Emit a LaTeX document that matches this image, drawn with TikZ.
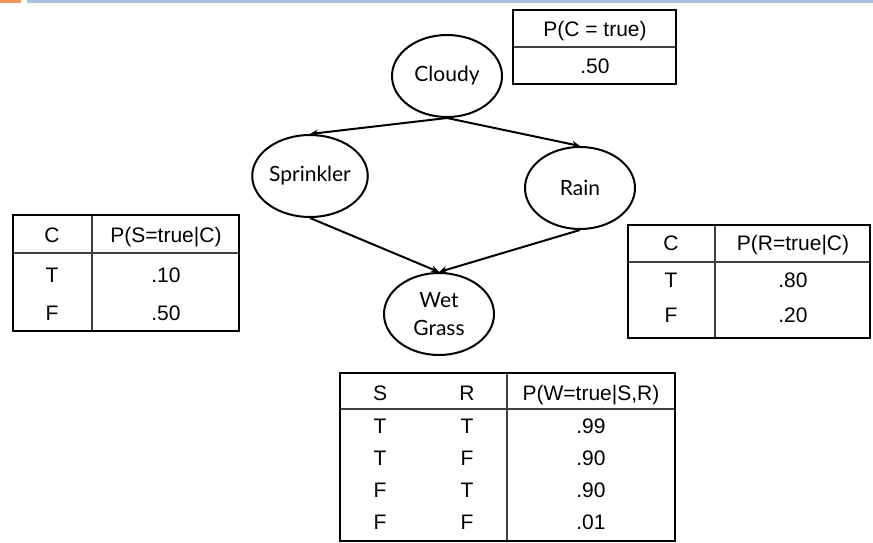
\documentclass[tikz,border=0pt]{standalone}
\usepackage{fontspec}
\setmainfont{Liberation Sans}
\newfontfamily\gillfont{Lato}
\usetikzlibrary{shapes.geometric,arrows.meta}
\definecolor{barorange}{RGB}{240,150,90}
\definecolor{barblue}{RGB}{168,196,220}
\tikzset{
  var/.style={draw,ellipse,line width=2pt,minimum width=110pt,minimum height=82pt,inner sep=0pt,
    align=center,font=\gillfont\fontsize{21}{28}\selectfont},
  link/.style={line width=2pt,-{Stealth[length=8pt,width=7pt]}},
  cell/.style={inner sep=0pt,text height=15pt,text depth=0pt},
  tabframe/.style={line width=2.6pt},
  tabrule/.style={line width=1.1pt,black!75}
}

\begin{document}
\begin{tikzpicture}[x=1pt,y=-1pt,font=\fontsize{21}{25}\selectfont]
  \useasboundingbox (0,0) rectangle (873,543);
  % slide bars
  \fill[barorange] (0,0) rectangle (21,3);
  \fill[barblue] (27,0) rectangle (873,3);

  % network
  \node[var] (cloudy) at (447,76) {Cloudy};
  \node[var] (sprinkler) at (310,176) {Sprinkler};
  \node[var] (rain) at (580,188) {Rain};
  \node[var] (wet) at (439,314) {Wet\\Grass};
  \draw[link] (cloudy.south) -- (sprinkler.north);
  \draw[link] (cloudy.south) -- (rain.north);
  \draw[link] (sprinkler.south) -- (wet.north);
  \draw[link] (rain.south) -- (wet.north);

  % P(C)
  \draw[tabrule] (513,47) -- (676,47);
  \draw[tabframe] (513,10) rectangle (676,84);
  \node[cell] (pc) at (595,29) {P(C = true)};
  \node[cell] (pcv) at (595,66) {.50};

  % P(S|C)
  \draw[tabrule] (13,253) -- (239,253); \draw[tabrule] (92,215) -- (92,331);
  \draw[tabframe] (13,215) rectangle (239,331);
  \node[cell] (sc) at (52,235) {C}; \node[cell] (sp) at (166,235) {P(S=true|C)};
  \node[cell] (sc1) at (52,275) {T}; \node[cell] (sp1) at (166,275) {.10};
  \node[cell] (sc2) at (52,313) {F}; \node[cell] (sp2) at (166,313) {.50};

  % P(R|C)
  \draw[tabrule] (628,262) -- (870,262); \draw[tabrule] (715,225) -- (715,338);
  \draw[tabframe] (628,225) rectangle (870,338);
  \node[cell] (rc) at (671,243) {C}; \node[cell] (rp) at (793,243) {P(R=true|C)};
  \node[cell] (rc1) at (671,280) {T}; \node[cell] (rp1) at (793,280) {.80};
  \node[cell] (rc2) at (671,315) {F}; \node[cell] (rp2) at (793,315) {.20};

  % P(W|S,R)
  \draw[tabrule] (340,409) -- (675,409); \draw[tabrule] (507,373) -- (507,541);
  \draw[tabframe] (340,373) rectangle (675,541);
  \node[cell] (ws) at (380,393) {S}; \node[cell] (wr) at (467,393) {R};
  \node[cell] (wp) at (591,393) {P(W=true|S,R)};
  \node[cell] (ws1) at (380,426) {T}; \node[cell] (wr1) at (467,426) {T}; \node[cell] (wp1) at (591,426) {.99};
  \node[cell] (ws2) at (380,458) {T}; \node[cell] (wr2) at (467,458) {F}; \node[cell] (wp2) at (591,458) {.90};
  \node[cell] (ws3) at (380,490) {F}; \node[cell] (wr3) at (467,490) {T}; \node[cell] (wp3) at (591,490) {.90};
  \node[cell] (ws4) at (380,522) {F}; \node[cell] (wr4) at (467,522) {F}; \node[cell] (wp4) at (591,522) {.01};
\end{tikzpicture}
\end{document}
